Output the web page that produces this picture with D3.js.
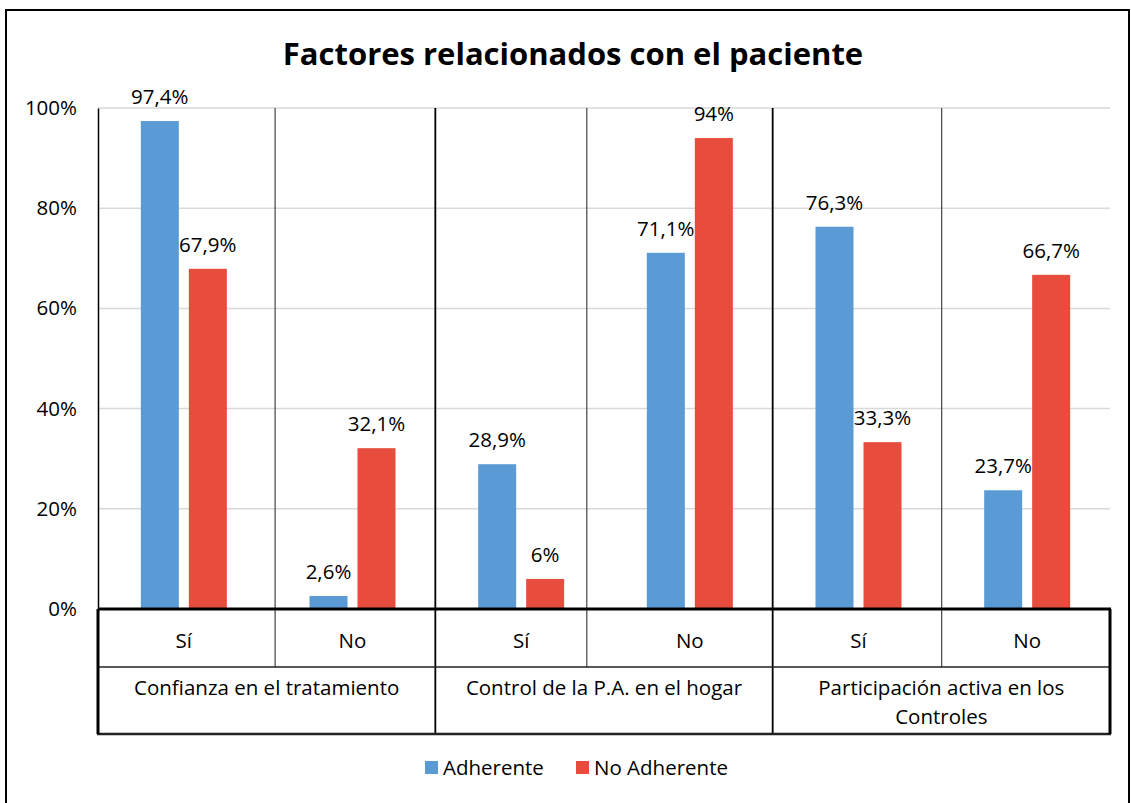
<!DOCTYPE html>
<html>
<head>
<meta charset="utf-8">
<script src="https://cdn.jsdelivr.net/npm/d3@7"></script>
<style>
  body { margin: 0; background: #fff; }
  text { font-family: "Open Sans", sans-serif; fill: #000; }
</style>
</head>
<body>
<div id="chart"></div>
<script>
const width = 1131;
const height = 803;

// Data
const groups = ["Confianza en el tratamiento", "Control de la P.A. en el hogar", "Participación activa en los Controles"];
const answers = ["Sí", "No"];
const series = ["Adherente", "No Adherente"];
const adherente = [97.4, 2.6, 28.9, 71.1, 76.3, 23.7];
const noAdherente = [67.9, 32.1, 6, 94, 33.3, 66.7];
const labelsAdh = ["97,4%", "2,6%", "28,9%", "71,1%", "76,3%", "23,7%"];
const labelsNoAdh = ["67,9%", "32,1%", "6%", "94%", "33,3%", "66,7%"];
const yTicks = [0, 20, 40, 60, 80, 100];
const colors = ["#5B9BD5", "#E84C3D"];

const margin = { left: 98, right: 21, top: 108, bottom: 194 };
const plotRight = width - margin.right;
const plotBottom = height - margin.bottom;
const fs = "20.5px";
// where the Sí/No divider sits inside each group (fraction of group width)
const splitFrac = [0.525, 0.449, 0.501];

const svg = d3.select("#chart").append("svg").attr("width", width).attr("height", height);

// Outer frame
svg.append("rect").attr("x", 6).attr("y", 10).attr("width", width - 8).attr("height", height)
  .attr("fill", "none").attr("stroke", "#000").attr("stroke-width", 2);

// Title
svg.append("text").attr("x", 573).attr("y", 65).attr("text-anchor", "middle")
  .style("font-size", "31px").style("font-weight", "bold").text("Factores relacionados con el paciente");

const cats = d3.range(adherente.length);
const x = d3.scaleBand().domain(cats).range([margin.left + 1.5, plotRight + 1.5]);
const xg = d3.scaleBand().domain(groups).range([margin.left, plotRight]);
const xs = d3.scaleBand().domain([0, 1]).range([-43, 43]).paddingInner(0.2083);
const y = d3.scaleLinear().domain([0, 100]).range([plotBottom, margin.top]);

// Gridlines
svg.append("g").selectAll("line").data(yTicks.filter(d => d > 0)).join("line")
  .attr("x1", margin.left).attr("x2", plotRight)
  .attr("y1", d => y(d)).attr("y2", d => y(d))
  .attr("stroke", "#d9d9d9").attr("stroke-width", 1.5);

// Y axis
const yAxis = svg.append("g").attr("transform", `translate(${margin.left},0)`)
  .call(d3.axisLeft(y).tickValues(yTicks).tickSize(0).tickPadding(21).tickFormat(d => d + "%"));
yAxis.select(".domain").attr("stroke", "#000").attr("stroke-width", 1.5);
yAxis.selectAll("text").style("font-size", fs).style("font-family", "'Open Sans', sans-serif");

// Table geometry
const tableTop = plotBottom;
const rowMid = tableTop + 58;
const tableBottom = tableTop + 125;

// Minor dividers (between Sí and No) and major dividers (between groups)
groups.forEach((g, gi) => {
  const sx = xg(g) + xg.bandwidth() * splitFrac[gi];
  svg.append("line").attr("x1", sx).attr("x2", sx).attr("y1", margin.top).attr("y2", rowMid)
    .attr("stroke", "#444").attr("stroke-width", 1.2);
  if (gi > 0) {
    svg.append("line").attr("x1", xg(g)).attr("x2", xg(g)).attr("y1", margin.top).attr("y2", tableBottom)
      .attr("stroke", "#000").attr("stroke-width", 1.8);
  }
});

// Bars
const data = cats.map(i => [
  { i, s: 0, v: adherente[i], label: labelsAdh[i] },
  { i, s: 1, v: noAdherente[i], label: labelsNoAdh[i] }
]).flat();

svg.append("g").selectAll("rect").data(data).join("rect")
  .attr("x", d => x(d.i) + x.bandwidth() / 2 + xs(d.s))
  .attr("y", d => y(d.v))
  .attr("width", xs.bandwidth())
  .attr("height", d => y(0) - y(d.v))
  .attr("fill", d => colors[d.s]);

// Value labels
svg.append("g").selectAll("text").data(data).join("text")
  .attr("x", d => x(d.i) + x.bandwidth() / 2 + xs(d.s) + xs.bandwidth() / 2)
  .attr("y", d => y(d.v) - 17)
  .attr("text-anchor", "middle")
  .style("font-size", fs)
  .text(d => d.label);

// Table borders
svg.append("line").attr("x1", margin.left).attr("x2", plotRight + 1).attr("y1", tableTop).attr("y2", tableTop)
  .attr("stroke", "#000").attr("stroke-width", 3);
svg.append("line").attr("x1", margin.left).attr("x2", plotRight).attr("y1", rowMid).attr("y2", rowMid)
  .attr("stroke", "#222").attr("stroke-width", 1.5);
svg.append("line").attr("x1", margin.left - 1).attr("x2", plotRight + 1).attr("y1", tableBottom).attr("y2", tableBottom)
  .attr("stroke", "#222").attr("stroke-width", 2.5);
[margin.left, plotRight].forEach(px => {
  svg.append("line").attr("x1", px).attr("x2", px).attr("y1", tableTop).attr("y2", tableBottom)
    .attr("stroke", "#000").attr("stroke-width", 3);
});

// Answer labels (Sí / No)
svg.append("g").selectAll("text").data(cats).join("text")
  .attr("x", i => x(i) + x.bandwidth() / 2)
  .attr("y", tableTop + 39)
  .attr("text-anchor", "middle")
  .style("font-size", fs)
  .text(i => answers[i % 2]);

// Group labels (wrapped)
const groupLines = [["Confianza en el tratamiento"], ["Control de la P.A. en el hogar"], ["Participación activa en los", "Controles"]];
groups.forEach((g, gi) => {
  const t = svg.append("text").attr("text-anchor", "middle").style("font-size", fs);
  groupLines[gi].forEach((ln, li) => {
    t.append("tspan").attr("x", xg(g) + xg.bandwidth() / 2).attr("y", rowMid + 28 + li * 29).text(ln);
  });
});

// Legend
const legend = svg.append("g").attr("transform", "translate(425,768)");
const legendX = [0, 151];
series.forEach((s, i) => {
  const gi = legend.append("g").attr("transform", `translate(${legendX[i]},0)`);
  gi.append("rect").attr("x", 0).attr("y", -7).attr("width", 13).attr("height", 13).attr("fill", colors[i]);
  gi.append("text").attr("x", 18).attr("y", 7).style("font-size", fs).text(s);
});
</script>
</body>
</html>
